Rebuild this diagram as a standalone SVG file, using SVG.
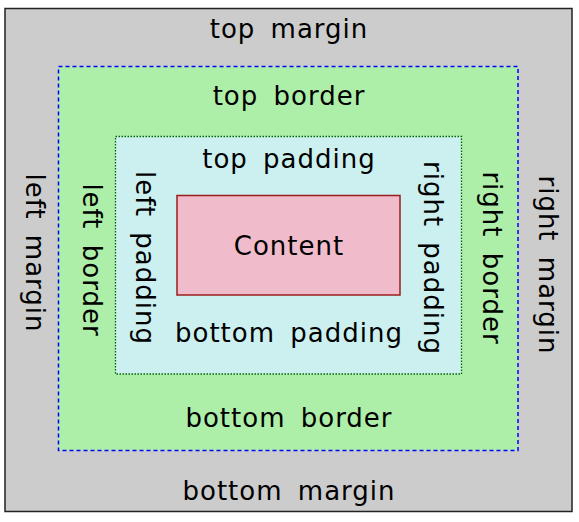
<svg xmlns="http://www.w3.org/2000/svg" width="579" height="522" viewBox="0 0 579 522">
<style>
  text { font-family: "DejaVu Sans", "Verdana", sans-serif; font-size: 26px; fill: #000; text-anchor: middle; letter-spacing: 1px; word-spacing: 6px; }
</style>
<rect width="579" height="522" fill="#ffffff"/>
<g id="margin">
  <rect x="5" y="8.5" width="567" height="503" fill="#cccccc" stroke="#222222" stroke-width="1.5"/>
  <text x="289" y="38">top margin</text>
  <text x="289" y="500">bottom margin</text>
  <text transform="translate(33,253) rotate(90)" x="0" y="7">left margin</text>
  <text transform="translate(546,265) rotate(90)" x="0" y="7">right margin</text>
</g>
<g id="border">
  <rect x="58.5" y="66.5" width="459.5" height="384" fill="#adeea9" stroke="#0000ff" stroke-width="1.5" stroke-dasharray="4,3"/>
  <text x="289" y="105">top border</text>
  <text x="289" y="427">bottom border</text>
  <text transform="translate(90,260) rotate(90)" x="0" y="7">left border</text>
  <text transform="translate(490,258) rotate(90)" x="0" y="7">right border</text>
</g>
<g id="padding">
  <rect x="115.5" y="136.5" width="346" height="237.5" fill="#ccf0f0" stroke="#006600" stroke-width="1.3" stroke-dasharray="1.5,1.5"/>
  <text x="289" y="168">top padding</text>
  <text x="289" y="342">bottom padding</text>
  <text transform="translate(143,258) rotate(90)" x="0" y="7">left padding</text>
  <text transform="translate(431,258) rotate(90)" x="0" y="7">right padding</text>
</g>
<g id="content">
  <rect x="177" y="195.5" width="223" height="99.5" fill="#f0bccb" stroke="#9b1c1c" stroke-width="1.5"/>
  <text x="289" y="255">Content</text>
</g>
<g id="connectors"></g>
</svg>
